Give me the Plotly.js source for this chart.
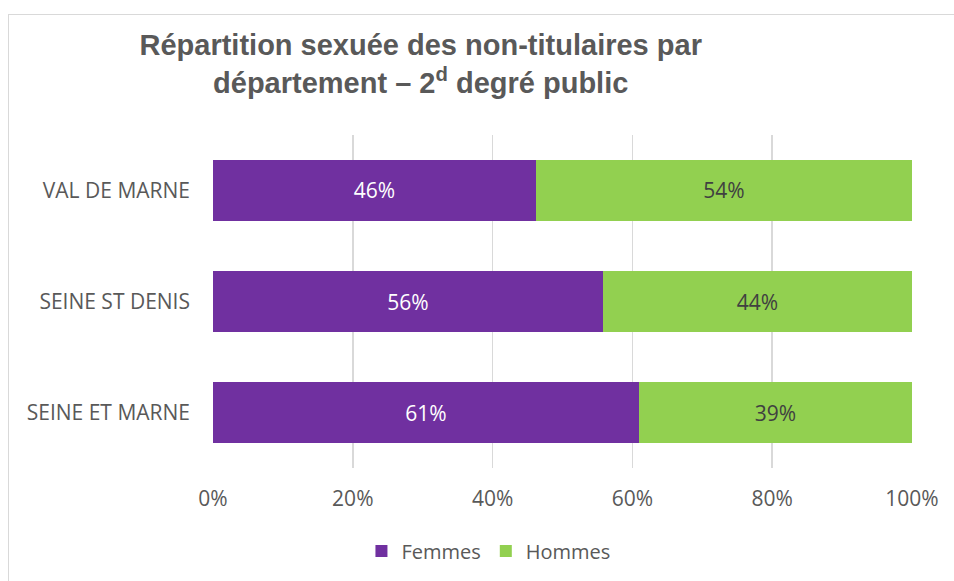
<!DOCTYPE html>
<html>
<head>
<meta charset="utf-8">
<script src="https://cdn.plot.ly/plotly-3.0.1.min.js"></script>
<style>
html,body{margin:0;padding:0;background:#fff;overflow:hidden;}
#chart{width:954px;height:581px;position:absolute;left:0;top:0;}
#frame{position:absolute;left:8px;top:14px;width:980px;height:600px;border:1.5px solid #D9D9D9;pointer-events:none;}
</style>
</head>
<body>
<div id="chart"></div>
<div id="frame"></div>
<script>
const departements = ['SEINE ET MARNE', 'SEINE ST DENIS', 'VAL DE MARNE'];
const femmes = [60.9, 55.8, 46.2];
const hommes = [39.1, 44.2, 53.8];
const xTicks = [0, 20, 40, 60, 80, 100];
const xTickLabels = ['0%', '20%', '40%', '60%', '80%', '100%'];

const labelFont = 'Open Sans, sans-serif';

const traces = [
  {
    type: 'bar', orientation: 'h', name: 'Femmes',
    y: departements, x: femmes,
    marker: {color: '#7030A0'},
    text: femmes.map(v => Math.round(v) + '%'),
    textposition: 'inside', insidetextanchor: 'middle',
    textfont: {family: labelFont, size: 21, color: '#FFFFFF'},
    hoverinfo: 'skip'
  },
  {
    type: 'bar', orientation: 'h', name: 'Hommes',
    y: departements, x: hommes,
    marker: {color: '#92D050'},
    text: hommes.map(v => Math.round(v) + '%'),
    textposition: 'inside', insidetextanchor: 'middle',
    textfont: {family: labelFont, size: 21, color: '#404040'},
    hoverinfo: 'skip'
  }
];

const layout = {
  width: 954, height: 581,
  barmode: 'stack',
  bargap: 0.45,
  paper_bgcolor: '#FFFFFF', plot_bgcolor: '#FFFFFF',
  margin: {l: 213, r: 42, t: 135, b: 113},
  title: {
    text: '<b>Répartition sexuée des non-titulaires par<br>département – 2<sup>d</sup> degré public</b>',
    font: {family: 'Liberation Sans, Arial, sans-serif', size: 29, color: '#595959'},
    xref: 'container', x: 0.441, xanchor: 'center',
    yref: 'container', y: 1 - 55/581, yanchor: 'top'
  },
  xaxis: {
    range: [0, 100],
    tickvals: xTicks, ticktext: xTickLabels,
    showgrid: true, gridcolor: '#D9D9D9', gridwidth: 1.5,
    zeroline: false, showline: false,
    ticks: '', ticklabelstandoff: 16,
    tickfont: {family: labelFont, size: 21, color: '#595959'},
    fixedrange: true
  },
  yaxis: {
    type: 'category',
    categoryorder: 'array', categoryarray: departements,
    showgrid: false, zeroline: false, showline: false,
    ticks: '', ticklabelstandoff: 22,
    tickfont: {family: labelFont, size: 21, color: '#595959'},
    fixedrange: true
  },
  showlegend: true,
  legend: {
    orientation: 'h',
    xref: 'container', x: 0.512, xanchor: 'center',
    yref: 'container', y: 1 - 551/581, yanchor: 'middle',
    font: {family: labelFont, size: 20, color: '#595959'},
    traceorder: 'normal',
    itemwidth: 30
  }
};

Plotly.newPlot('chart', traces, layout, {displayModeBar: false, staticPlot: true});
</script>
</body>
</html>
